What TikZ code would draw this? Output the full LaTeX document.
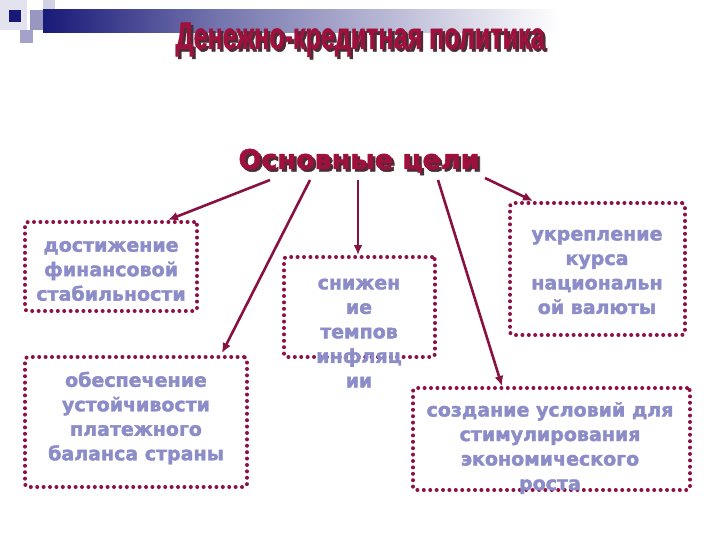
\documentclass[tikz,border=0pt]{standalone}
\usepackage{fontspec}
\setmainfont{DejaVu Sans}
\newfontfamily\titlefont[FakeBold=1.5]{Liberation Sans Bold}
\newfontfamily\goalfont[FakeBold=2]{DejaVu Sans Bold}
\usetikzlibrary{arrows.meta,calc}

\definecolor{crimson}{RGB}{160,16,60}
\definecolor{arrowred}{RGB}{135,18,65}
\definecolor{dotred}{RGB}{140,18,70}
\definecolor{goalblue}{RGB}{140,140,200}
\definecolor{navy}{RGB}{25,25,120}
\definecolor{shadowgray}{RGB}{75,45,55}

\newcommand{\narrowtxt}[1]{\scalebox{0.66}[1]{#1}}
% text with a dark shadow behind it, in one box
\newcommand{\shadowtxt}[1]{\rlap{\hspace{2.5pt}\raisebox{-2.5pt}{\textcolor{shadowgray}{#1}}}#1}

\tikzset{
  goalbox/.style={draw=dotred, line width=4pt, line cap=round,
    dash pattern=on 0pt off 6.4pt, rounded corners=3pt, inner sep=0pt},
  goallabel/.style={text=goalblue, align=center,
    font=\goalfont\fontsize{19}{24.5}\selectfont},
  goalarrow/.style={draw=arrowred, line width=2.6pt,
    -{Latex[length=10pt,width=9pt]}},
  headfont/.style={font=\titlefont\fontsize{38}{38}\selectfont},
  subfont/.style={font=\goalfont\fontsize{27}{27}\selectfont}
}

\begin{document}
\begin{tikzpicture}[x=1pt,y=-1pt]
\useasboundingbox (0,0) rectangle (720,540);

% corner squares and bar
\fill[navy!12] (0,0) rectangle (27,30);
\fill[navy!20] (43,0) rectangle (55,12);
\shade[left color=navy, right color=navy!60] (43,10) rectangle (220,33);
\shade[left color=navy!60, right color=white] (220,10) rectangle (560,33);
\fill[navy!45] (30,10) rectangle (43,30);
\fill[navy!40] (20,30) rectangle (33,43);
\fill[navy] (9,10) rectangle (21,22);

% headings
\node[headfont, text=crimson] (head) at (360,41) {\shadowtxt{\narrowtxt{Денежно-кредитная политика}}};
\node[subfont, text=crimson] (goals) at (359,162) {\shadowtxt{Основные цели}};

% boxes
\node[goalbox, minimum width=172pt, minimum height=89pt] (fin) at (111,266.5) {};
\node[goalbox, minimum width=222pt, minimum height=130pt] (pay) at (136,422) {};
\node[goalbox, minimum width=151pt, minimum height=100pt] (infl) at (359.5,307) {};
\node[goalbox, minimum width=175pt, minimum height=132pt] (cur) at (597.5,269) {};
\node[goalbox, minimum width=277pt, minimum height=102pt] (grow) at (551.5,439) {};

\node[goallabel] (finlbl) at (111,271) {достижение\\финансовой\\стабильности};
\node[goallabel] (paylbl) at (136,418) {обеспечение\\устойчивости\\платежного\\баланса страны};
\node[goallabel] (infllbl) at (359,333) {снижен\\ие\\темпов\\инфляц\\ии};
\node[goallabel] (curlbl) at (597,272) {укрепление\\курса\\национальн\\ой валюты};
\node[goallabel] (growlbl) at (550,448) {создание условий для\\стимулирования\\экономического\\роста};

% arrows
\coordinate (s1) at (270,180);
\coordinate (s2) at (310,180);
\coordinate (s3) at (358,180);
\coordinate (s4) at (438,180);
\coordinate (s5) at (485,178);
\draw[goalarrow] (s1) -- ($(fin.north)+(57,0)$);
\draw[goalarrow] (s2) -- ($(pay.north)+(86,-2)$);
\draw[goalarrow] (s3) -- ($(infl.north)+(-1.5,0)$);
\draw[goalarrow] (s4) -- ($(grow.north)+(-49.5,0)$);
\draw[goalarrow] (s5) -- ($(cur.north)+(-64.5,0)$);
\end{tikzpicture}
\end{document}
